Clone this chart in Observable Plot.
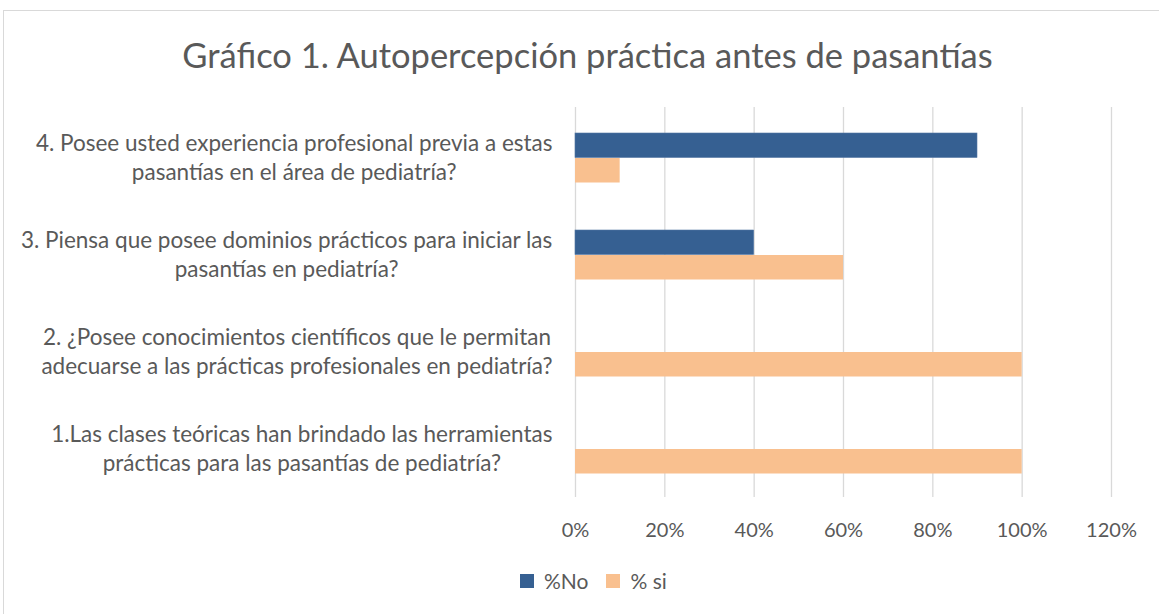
<!DOCTYPE html>
<html><head><meta charset="utf-8">
<script src="https://cdn.jsdelivr.net/npm/d3@7"></script>
<script src="https://cdn.jsdelivr.net/npm/@observablehq/plot@0.6"></script>
<style>
body{margin:0;background:#fff;font-family:Lato, sans-serif;width:1159px;height:614px;overflow:hidden;position:relative}
#frame{position:absolute;left:3px;top:10px;width:1170px;height:620px;border:1px solid #d9d9d9;box-sizing:border-box}
#title{position:absolute;left:8px;width:1159px;top:34px;text-align:center;font-size:34.5px;line-height:42px;color:#595959;white-space:nowrap}
#chart{position:absolute;left:0;top:90px}
#legend{position:absolute;top:570px;left:520px;display:flex;align-items:center;font-size:21px;color:#595959;line-height:22px}
#legend .sw{width:14px;height:14px;display:inline-block;margin-right:10px}
#legend .it{display:flex;align-items:center;margin-right:18px}
</style>
</head><body>
<div id="frame"></div>
<div id="title">Gráfico 1. Autopercepción práctica antes de pasantías</div>
<div id="chart"></div>
<div id="legend"></div>
<script>
const questions = [
  "4. Posee usted experiencia profesional previa a estas\npasantías en el área de pediatría?",
  "3. Piensa que posee dominios prácticos para iniciar las\npasantías en pediatría?",
  "2. ¿Posee conocimientos científicos que le permitan\nadecuarse a las prácticas profesionales en pediatría?",
  "1.Las clases teóricas han brindado las herramientas\nprácticas para las pasantías de pediatría?"
];
const seriesNames = ["%No", "% si"];
const pctNo = [0.9, 0.4, 0, 0];
const pctSi = [0.1, 0.6, 1, 1];
const xTicks = [0, 0.2, 0.4, 0.6, 0.8, 1.0, 1.2];
const seriesColors = ["#366092", "#f9c08f"];

const rows = [];
questions.forEach((q, i) => {
  rows.push({q, series: seriesNames[0], value: pctNo[i]});
  rows.push({q, series: seriesNames[1], value: pctSi[i]});
});

const labelSize = 22.5;
const tickSize = 20;
const ctx = document.createElement("canvas").getContext("2d");
ctx.font = `${labelSize}px Lato`;
const blockWidth = q => Math.max(...q.split("\n").map(l => ctx.measureText(l).width));
const gap = 23;

const labelMarks = questions.map(q => Plot.text([q], {
  y: d => d, text: d => d, frameAnchor: "left", textAnchor: "middle",
  dx: -(gap + blockWidth(q) / 2), dy: -1, lineHeight: 1.3, fontSize: labelSize, fill: "#595959"
}));

const chart = Plot.plot({
  width: 1159, height: 457,
  marginLeft: 575, marginRight: 48, marginTop: 17, marginBottom: 50,
  style: {fontFamily: "Lato, sans-serif", fontSize: `${tickSize}px`, color: "#595959", background: "transparent", overflow: "visible"},
  x: {domain: [0, 1.2], label: null},
  y: {domain: questions, padding: 0, axis: null},
  marks: [
    Plot.gridX(xTicks, {stroke: "#d9d9d9", strokeOpacity: 1, strokeWidth: 1.3}),
    Plot.barX(rows.filter(r => r.series === seriesNames[0]), {x: "value", y: "q", fill: seriesColors[0], insetTop: 25, insetBottom: 47.5, stroke: "#5577a3", strokeWidth: 0.6}),
    Plot.barX(rows.filter(r => r.series === seriesNames[1]), {x: "value", y: "q", fill: seriesColors[1], insetTop: 50, insetBottom: 22.5}),
    Plot.axisX(xTicks, {tickSize: 0, tickPadding: 25, tickFormat: d3.format(".0%"), fontSize: tickSize, fill: "#595959", label: null}),
    ...labelMarks
  ]
});
document.getElementById("chart").appendChild(chart);

const legend = document.getElementById("legend");
seriesNames.forEach((s, i) => {
  const it = document.createElement("span");
  it.className = "it";
  it.innerHTML = `<span class="sw" style="background:${seriesColors[i]}"></span>${s}`;
  legend.appendChild(it);
});
</script>
</body></html>
